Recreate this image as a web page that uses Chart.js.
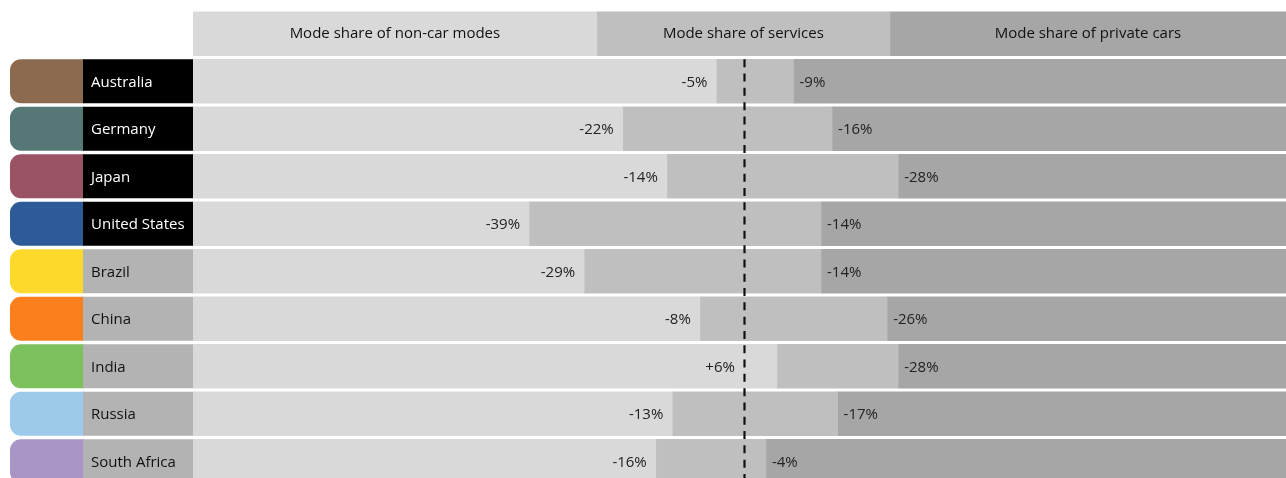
<!DOCTYPE html>
<html>
<head>
<meta charset="utf-8">
<script src="https://cdn.jsdelivr.net/npm/chart.js@4.4.1/dist/chart.umd.min.js"></script>
<style>
  html, body { margin: 0; padding: 0; background: #fff; overflow: hidden; }
  #wrap { width: 1286px; height: 485px; }
</style>
</head>
<body>
<div id="wrap"><canvas id="chart" width="1286" height="485"></canvas></div>
<script>
// change in mode share by country, in percentage points
const countries = ['Australia', 'Germany', 'Japan', 'United States', 'Brazil', 'China', 'India', 'Russia', 'South Africa'];
const nonCarChange = [-5, -22, -14, -39, -29, -8, 6, -13, -16];
const privateCarChange = [-9, -16, -28, -14, -14, -26, -28, -17, -4];

const swatchColors = ['#8c6a4f', '#557877', '#9a5265', '#2d5b97', '#fdd92c', '#fb7f1d', '#7dc15d', '#9dcaea', '#a994c6'];
const labelBoxColors = ['#000', '#000', '#000', '#000', '#b3b3b3', '#b3b3b3', '#b3b3b3', '#b3b3b3', '#b3b3b3'];
const labelTextColors = ['#fff', '#fff', '#fff', '#fff', '#111', '#111', '#111', '#111', '#111'];

// header strip
const headerTitles = ['Mode share of non-car modes', 'Mode share of services', 'Mode share of private cars'];
const headerSplits = [-26.7, 26.5];

const xMin = -100;
const xMax = 98.4;

const segColors = ['#d9d9d9', '#bfbfbf', '#a6a6a6'];

const rows = [''].concat(countries);

const fmt = v => (v > 0 ? '+' : '') + v + '%';

const rowDecor = {
  id: 'rowDecor',
  beforeDatasetsDraw(chart) {
    const ctx = chart.ctx;
    const y = chart.scales.y;
    ctx.save();
    countries.forEach((name, i) => {
      const cy = y.getPixelForValue(i + 1);
      const top = cy - 22;
      ctx.fillStyle = swatchColors[i];
      ctx.beginPath();
      ctx.roundRect(10, top, 74, 44, [11, 0, 0, 11]);
      ctx.fill();
      ctx.fillStyle = labelBoxColors[i];
      ctx.fillRect(83, top, 110, 44);
      ctx.fillStyle = labelTextColors[i];
      ctx.font = '15px "Open Sans"';
      ctx.textAlign = 'left';
      ctx.textBaseline = 'middle';
      ctx.fillText(name, 91, cy + 1);
    });
    ctx.restore();
  },
  afterDatasetsDraw(chart) {
    const ctx = chart.ctx;
    const x = chart.scales.x;
    const y = chart.scales.y;
    ctx.save();

    // header titles centred in their segments
    const hy = y.getPixelForValue(0);
    const bounds = [xMin, headerSplits[0], headerSplits[1], xMax];
    ctx.fillStyle = '#111';
    ctx.font = '15px "Open Sans"';
    ctx.textAlign = 'center';
    ctx.textBaseline = 'middle';
    headerTitles.forEach((t, i) => {
      const cx = (x.getPixelForValue(bounds[i]) + x.getPixelForValue(bounds[i + 1])) / 2;
      ctx.fillText(t, cx, hy);
    });

    // dashed zero line
    const x0 = Math.round(x.getPixelForValue(0)) + 0.5;
    ctx.strokeStyle = '#111';
    ctx.lineWidth = 2.2;
    ctx.setLineDash([8, 6.3]);
    ctx.beginPath();
    ctx.moveTo(x0, y.getPixelForValue(1) - 22);
    ctx.lineTo(x0, chart.chartArea.bottom);
    ctx.stroke();
    ctx.setLineDash([]);

    // value labels
    ctx.font = '15px "Open Sans"';
    ctx.fillStyle = '#222';
    countries.forEach((name, i) => {
      const cy = y.getPixelForValue(i + 1) + 1;
      ctx.textAlign = 'right';
      ctx.fillText(fmt(nonCarChange[i]), x.getPixelForValue(Math.min(nonCarChange[i], 0)) - 9, cy);
      ctx.textAlign = 'left';
      ctx.fillText(fmt(privateCarChange[i]), x.getPixelForValue(-privateCarChange[i]) + 6, cy);
    });
    ctx.restore();
  }
};

const barStyle = { borderWidth: 0, borderSkipped: false, barThickness: 44, grouped: false };

new Chart(document.getElementById('chart'), {
  type: 'bar',
  data: {
    labels: rows,
    datasets: [
      Object.assign({
        label: 'Non-car modes',
        backgroundColor: segColors[0],
        data: [[xMin, headerSplits[0]]].concat(nonCarChange.map(v => [xMin, v]))
      }, barStyle),
      Object.assign({
        label: 'Services',
        backgroundColor: segColors[1],
        data: [[headerSplits[0], headerSplits[1]]].concat(nonCarChange.map((v, i) => [v, -privateCarChange[i]]))
      }, barStyle),
      Object.assign({
        label: 'Private cars',
        backgroundColor: segColors[2],
        data: [[headerSplits[1], xMax]].concat(privateCarChange.map(v => [-v, xMax]))
      }, barStyle)
    ]
  },
  options: {
    indexAxis: 'y',
    responsive: false,
    animation: false,
    devicePixelRatio: 1,
    layout: { padding: { left: 193, top: 10, right: 0, bottom: 0 } },
    plugins: {
      legend: { display: false },
      tooltip: { enabled: false }
    },
    scales: {
      x: { type: 'linear', min: xMin, max: xMax, display: false },
      y: { display: false }
    }
  },
  plugins: [rowDecor]
});
</script>
</body>
</html>
